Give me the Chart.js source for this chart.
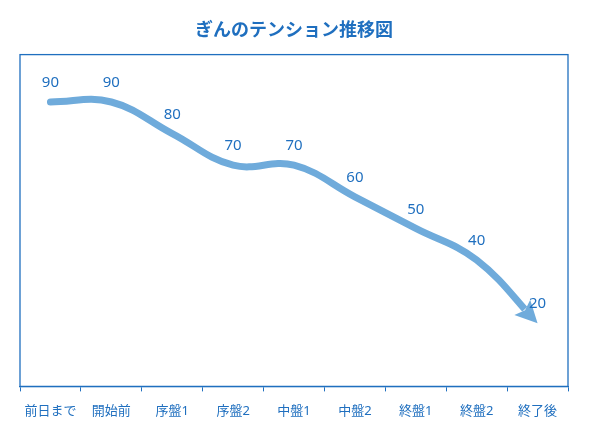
<!DOCTYPE html>
<html>
<head>
<meta charset="utf-8">
<script src="https://cdn.jsdelivr.net/npm/chart.js@4"></script>
<style>
  html, body { margin: 0; padding: 0; background: #fff; }
  #wrap { width: 597px; height: 440px; }
</style>
</head>
<body>
<div id="wrap"><canvas id="tensionChart"></canvas></div>
<script>
const titleText = 'ぎんのテンション推移図';
const stages = ['前日まで', '開始前', '序盤1', '序盤2', '中盤1', '中盤2', '終盤1', '終盤2', '終了後'];
const tension = [90, 90, 80, 70, 70, 60, 50, 40, 20];

const blue = '#1f6fbf';
const lineBlue = '#6fabdb';
const fontFamily = "'Noto Sans', 'Noto Sans CJK JP', sans-serif";

// frame around the plot + arrow head at the end of the line
const framePlugin = {
    id: 'frame',
    beforeDatasetDraw(chart) {
        const pts = chart.getDatasetMeta(0).data;
        const last = pts[pts.length - 1];
        const ctx = chart.ctx;
        let dx = last.x - last.cp1x, dy = last.y - last.cp1y;
        const len = Math.hypot(dx, dy) || 1;
        dx /= len; dy /= len;
        const bx = last.x - dx * 19, by = last.y - dy * 19;
        const px = -dy, py = dx;
        ctx.save();
        ctx.beginPath();
        ctx.rect(0, 0, chart.width, chart.height);
        ctx.moveTo(bx + px * 20, by + py * 20);
        ctx.lineTo(bx + px * 20 + dx * 40, by + py * 20 + dy * 40);
        ctx.lineTo(bx - px * 20 + dx * 40, by - py * 20 + dy * 40);
        ctx.lineTo(bx - px * 20, by - py * 20);
        ctx.closePath();
        ctx.clip('evenodd');
    },
    afterDatasetDraw(chart) {
        const ctx = chart.ctx;
        ctx.restore();
        const pts = chart.getDatasetMeta(0).data;
        const last = pts[pts.length - 1];
        let dx = last.x - last.cp1x, dy = last.y - last.cp1y;
        const len = Math.hypot(dx, dy) || 1;
        dx /= len; dy /= len;
        const bx = last.x - dx * 22, by = last.y - dy * 22;
        const px = -dy, py = dx;
        ctx.save();
        ctx.fillStyle = lineBlue;
        ctx.beginPath();
        ctx.moveTo(last.x, last.y);
        ctx.lineTo(bx + px * 11, by + py * 11);
        ctx.lineTo(bx + dx * 4, by + dy * 4);
        ctx.lineTo(bx - px * 11, by - py * 11);
        ctx.closePath();
        ctx.fill();

        // value labels
        ctx.fillStyle = blue;
        ctx.font = '15px ' + fontFamily;
        ctx.textAlign = 'center';
        ctx.textBaseline = 'middle';
        pts.forEach((p, i) => {
            ctx.fillText(String(tension[i]), p.x, p.y - 19);
        });
        ctx.restore();
    },
    afterDraw(chart) {
        const a = chart.chartArea;
        const ctx = chart.ctx;
        ctx.save();
        ctx.strokeStyle = blue;
        ctx.lineWidth = 1.3;
        ctx.strokeRect(a.left, a.top, a.right - a.left, a.bottom - a.top);
        ctx.restore();
    }
};

const ctx = document.getElementById('tensionChart').getContext('2d');
const tensionChart = new Chart(ctx, {
    type: 'line',
    data: {
        labels: stages,
        datasets: [{
            data: tension,
            borderColor: lineBlue,
            borderWidth: 7,
            borderCapStyle: 'round',
            tension: 0.4,
            pointRadius: 0,
            pointHoverRadius: 0
        }]
    },
    options: {
        responsive: true,
        maintainAspectRatio: false,
        animation: false,
        layout: { padding: { left: 20, right: 29, top: 20, bottom: 9 } },
        plugins: {
            legend: { display: false },
            tooltip: { enabled: false },
            title: {
                display: true,
                text: titleText,
                color: blue,
                font: { family: fontFamily, size: 18, weight: 'bold' },
                padding: { top: 0, bottom: 13 }
            }
        },
        scales: {
            x: {
                offset: true,
                grid: {
                    offset: true,
                    drawOnChartArea: false,
                    drawTicks: true,
                    tickLength: 5,
                    color: blue
                },
                border: { color: blue, width: 1.3 },
                ticks: {
                    color: blue,
                    font: { family: fontFamily, size: 13 },
                    maxRotation: 0,
                    padding: 12
                }
            },
            y: {
                display: false,
                min: 0,
                max: 105
            }
        }
    },
    plugins: [framePlugin]
});
</script>
</body>
</html>
